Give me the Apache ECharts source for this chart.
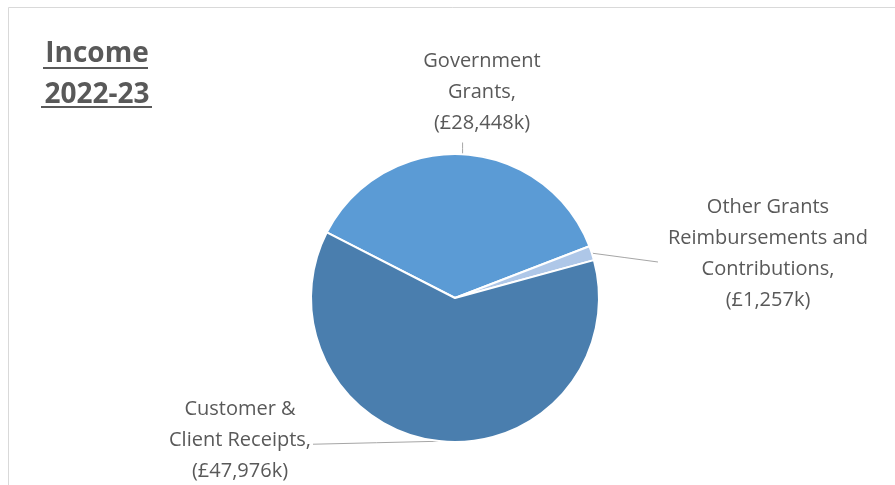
<!DOCTYPE html>
<html>
<head>
<meta charset="utf-8">
<script src="https://cdn.jsdelivr.net/npm/echarts@6/dist/echarts.min.js"></script>
<style>
  html, body { margin: 0; padding: 0; background: #fff; }
  #chart { width: 895px; height: 485px; }
</style>
</head>
<body>
<div id="chart"></div>
<script>
// Income sources for 2022-23, in £ thousands
const categories = [
  'Government\nGrants',
  'Other Grants\nReimbursements and\nContributions',
  'Customer &\nClient Receipts'
];
const incomeValues = [28448, 1257, 47976];
const sliceColors = ['#5B9BD5', '#AEC7E8', '#4A7EAE'];
const titleLines = ['Income', '2022-23'];

// Where each label block sits, and where its leader line ends
const labelSpots = [
  { x: 482, y: 92, lineEnd: (r) => [null, r.y + r.height + 4] },
  { x: 768, y: 254, lineEnd: (r) => [r.x - 10, r.y + r.height / 2 + 8] },
  { x: 240, y: 440, lineEnd: (r) => [r.x + r.width + 2, null] }
];

const fmt = (v) => v.toLocaleString('en-GB');
const textColor = '#595959';
const font = '"Open Sans", "Noto Sans", sans-serif';

const chart = echarts.init(document.getElementById('chart'));

chart.setOption({
  backgroundColor: '#fff',
  animation: false,
  graphic: [
    {
      type: 'rect', shape: { x: 8.5, y: 7.5, width: 900, height: 500 },
      style: { fill: 'none', stroke: '#D9D9D9', lineWidth: 1 }, silent: true
    },
    {
      type: 'text', x: 97, y: 40,
      style: { text: titleLines[0], fill: textColor, font: 'bold 28px ' + font, align: 'center', verticalAlign: 'top' }
    },
    {
      type: 'text', x: 97, y: 81,
      style: { text: titleLines[1], fill: textColor, font: 'bold 28px ' + font, align: 'center', verticalAlign: 'top' }
    },
    {
      type: 'line', shape: { x1: 43, y1: 68, x2: 148, y2: 68 },
      style: { stroke: textColor, lineWidth: 2 }
    },
    {
      type: 'line', shape: { x1: 41, y1: 107, x2: 152, y2: 107 },
      style: { stroke: textColor, lineWidth: 2 }
    }
  ],
  series: [{
    type: 'pie',
    center: [455, 298],
    radius: 144,
    startAngle: 152.9,
    clockwise: true,
    avoidLabelOverlap: false,
    itemStyle: { borderColor: '#fff', borderWidth: 2 },
    label: {
      show: true,
      position: 'outside',
      color: textColor,
      fontFamily: font,
      fontSize: 20,
      lineHeight: 31,
      align: 'center',
      formatter: (p) => p.name + ',\n(£' + fmt(p.value) + 'k)'
    },
    labelLine: {
      show: true,
      length: 10, length2: 10,
      lineStyle: { color: '#A6A6A6', width: 1 }
    },
    labelLayout: (params) => {
      const spot = labelSpots[params.dataIndex];
      const r = params.labelRect;
      const w = r.width, h = r.height;
      const rect = { x: spot.x - w / 2, y: spot.y - h / 2, width: w, height: h };
      const start = params.labelLinePoints ? params.labelLinePoints[0] : [spot.x, spot.y];
      const e = spot.lineEnd(rect);
      const end = [e[0] === null ? start[0] : e[0], e[1] === null ? start[1] + 3 : e[1]];
      const mid = [(start[0] + end[0]) / 2, (start[1] + end[1]) / 2];
      return {
        x: spot.x, y: spot.y,
        align: 'center', verticalAlign: 'middle',
        labelLinePoints: [start, mid, end]
      };
    },
    data: categories.map((name, i) => ({
      name, value: incomeValues[i], itemStyle: { color: sliceColors[i] }
    }))
  }]
});
</script>
</body>
</html>
